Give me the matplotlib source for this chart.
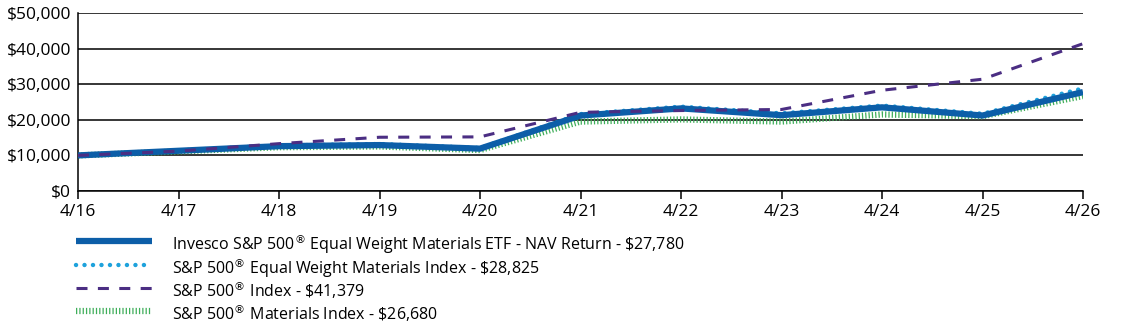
import matplotlib
matplotlib.use("Agg")
import matplotlib.pyplot as plt
from matplotlib.lines import Line2D
from matplotlib.ticker import FuncFormatter

plt.rcParams['font.family'] = ['Open Sans', 'DejaVu Sans']

years = ["4/16", "4/17", "4/18", "4/19", "4/20", "4/21", "4/22", "4/23", "4/24", "4/25", "4/26"]
etf = [10000, 11300, 12600, 12900, 11900, 21200, 23200, 21300, 23500, 21200, 27780]
ew_index = [10000, 11400, 12800, 13200, 12100, 21600, 23700, 21800, 24000, 21700, 28825]
sp500 = [10000, 11200, 13300, 15100, 15200, 22100, 22600, 22900, 28300, 31400, 41379]
materials = [10000, 11100, 12300, 12500, 11500, 19500, 20100, 19500, 21500, 21000, 26680]

labels = [
    "Invesco S&P 500$^{®}$ Equal Weight Materials ETF - NAV Return - \\$27,780",
    "S&P 500$^{®}$ Equal Weight Materials Index - \\$28,825",
    "S&P 500$^{®}$ Index - \\$41,379",
    "S&P 500$^{®}$ Materials Index - \\$26,680",
]

W, H = 1123, 327
fig = plt.figure(figsize=(W / 100, H / 100), dpi=100)
ax = fig.add_axes([78 / W, 1 - 191 / H, (1083 - 78) / W, (191 - 13) / H])

styles = {
    "etf": dict(color="#0c5ea8", lw=4.5, solid_capstyle="butt", zorder=4),
    "ew": dict(color="#1ea2dc", lw=3.2, linestyle=(0, (0.01, 1.9)), dash_capstyle="round", zorder=3),
    "sp": dict(color="#4b2e83", lw=2.2, dashes=(3.6, 3.4), zorder=5),
    "mat": dict(color="#3fae5a", lw=4.5, dashes=(0.2, 0.33), dash_capstyle="butt", zorder=2),
}

x = list(range(len(years)))
ax.plot(x, materials, **styles["mat"])
ax.plot(x, ew_index, **styles["ew"])
ax.plot(x, etf, **styles["etf"])
ax.plot(x, sp500, **styles["sp"])

ax.set_xlim(0, 10)
ax.set_ylim(0, 50000)
ax.set_xticks(x)
ax.set_xticklabels(years)
ax.set_yticks(range(0, 50001, 10000))
ax.yaxis.set_major_formatter(FuncFormatter(lambda v, p: "${:,.0f}".format(v)))
ax.grid(axis="y", color="black", lw=1.1)
ax.set_axisbelow(True)
for s in ["top", "right"]:
    ax.spines[s].set_visible(False)
for s in ["left", "bottom"]:
    ax.spines[s].set_color("black")
    ax.spines[s].set_linewidth(1.1)
ax.tick_params(axis="y", length=0, pad=5, labelsize=12.5)
ax.tick_params(axis="x", length=6, width=1.1, direction="out", pad=3, labelsize=12.5)

# legend drawn by hand so the rows keep even spacing
rows = [241, 265, 288, 311]
keys = ["etf", "ew", "sp", "mat"]
for r, k, lab in zip(rows, keys, labels):
    yf = 1 - r / H
    st = dict(styles[k])
    st.pop("zorder")
    fig.add_artist(Line2D([76 / W, 152 / W], [yf, yf], **st))
    fig.text(172 / W, yf, lab, fontsize=11.5, va="center_baseline", ha="left")

fig.savefig("out.png", dpi=100)
